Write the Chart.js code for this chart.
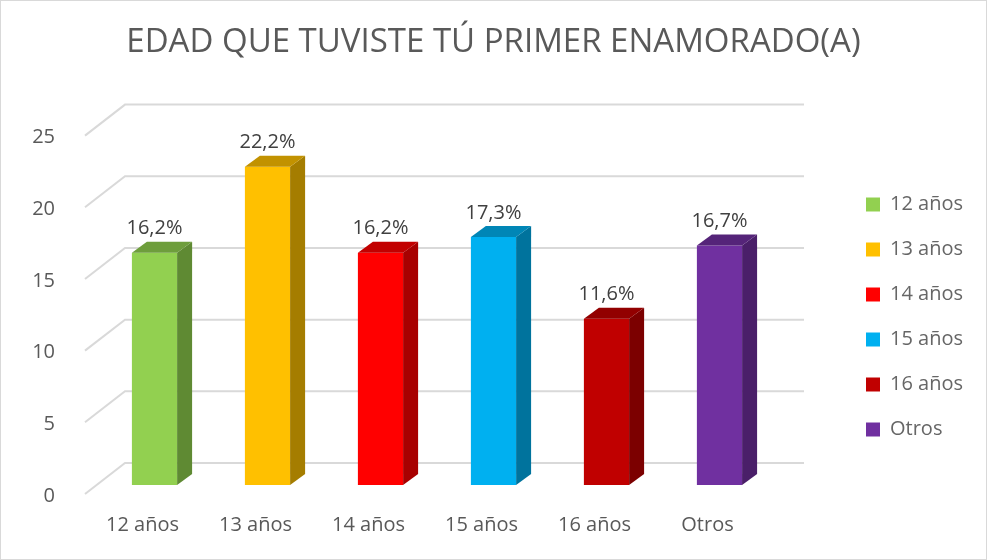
<!DOCTYPE html>
<html lang="es">
<head>
<meta charset="utf-8">
<title>Edad primer enamorado</title>
<script src="https://cdn.jsdelivr.net/npm/chart.js@4.4.0/dist/chart.umd.min.js"></script>
<style>
    html, body { margin: 0; padding: 0; background: #fff; }
    #wrap { width: 987px; height: 560px; position: relative; }
</style>
</head>
<body>
<div id="wrap"><canvas id="chart" width="987" height="560"></canvas></div>
<script>
const categories = ['12 años', '13 años', '14 años', '15 años', '16 años', 'Otros'];
const percentages = [16.2, 22.2, 16.2, 17.3, 11.6, 16.7];
const yTicks = [0, 5, 10, 15, 20, 25];
const chartTitle = 'EDAD QUE TUVISTE TÚ PRIMER ENAMORADO(A)';

const frontColors = ['#92D050', '#FFC000', '#FF0000', '#00B0F0', '#C00000', '#7030A0'];
const topColors = ['#6E9E3C', '#C29200', '#C20000', '#0086B6', '#920000', '#552479'];
const sideColors = ['#5F8A33', '#A57D00', '#A80000', '#00739D', '#7C0000', '#4A1F69'];

const textGrey = '#595959';
const gridGrey = '#d9d9d9';
const depthX = 15, depthY = 11;

Chart.defaults.font.family = "'Open Sans', 'Noto Sans', sans-serif";

const formatPct = v => v.toFixed(1).replace('.', ',') + '%';

// background + thin outer border
const frame = {
    id: 'frame',
    beforeDraw(chart) {
        const { ctx, width, height } = chart;
        ctx.save();
        ctx.fillStyle = '#fff';
        ctx.fillRect(0, 0, width, height);
        ctx.strokeStyle = gridGrey;
        ctx.lineWidth = 1;
        ctx.strokeRect(0.5, 0.5, width - 1, height - 1);
        ctx.restore();
    }
};

// slanted back-wall gridlines, like the 3D chart in Excel
const wallGrid = {
    id: 'wallGrid',
    beforeDatasetsDraw(chart) {
        const { ctx, chartArea, scales: { y } } = chart;
        ctx.save();
        ctx.strokeStyle = gridGrey;
        ctx.lineWidth = 2;
        yTicks.forEach(v => {
            const yp = y.getPixelForValue(v);
            ctx.beginPath();
            ctx.moveTo(chartArea.left - 13, yp + 9);
            ctx.lineTo(chartArea.left + 27, yp - 22);
            ctx.lineTo(chartArea.right + 28, yp - 22);
            ctx.stroke();
        });
        ctx.restore();
    }
};

// side and top faces of each bar + value labels
const bars3d = {
    id: 'bars3d',
    afterDatasetsDraw(chart) {
        const { ctx } = chart;
        const meta = chart.getDatasetMeta(0);
        ctx.save();
        meta.data.forEach((bar, i) => {
            const { x, y, base, width } = bar.getProps(['x', 'y', 'base', 'width'], true);
            const left = x - width / 2, right = x + width / 2;

            ctx.fillStyle = sideColors[i];
            ctx.beginPath();
            ctx.moveTo(right, y);
            ctx.lineTo(right + depthX, y - depthY);
            ctx.lineTo(right + depthX, base - depthY);
            ctx.lineTo(right, base);
            ctx.closePath();
            ctx.fill();

            ctx.fillStyle = topColors[i];
            ctx.beginPath();
            ctx.moveTo(left, y);
            ctx.lineTo(left + depthX, y - depthY);
            ctx.lineTo(right + depthX, y - depthY);
            ctx.lineTo(right, y);
            ctx.closePath();
            ctx.fill();

            ctx.fillStyle = '#404040';
            ctx.font = "20px 'Open Sans', 'Noto Sans', sans-serif";
            ctx.textAlign = 'center';
            ctx.textBaseline = 'middle';
            ctx.fillText(formatPct(percentages[i]), x, y - 24);
        });
        ctx.restore();
    }
};

new Chart(document.getElementById('chart'), {
    type: 'bar',
    data: {
        labels: categories,
        datasets: [{
            data: percentages,
            backgroundColor: frontColors,
            borderWidth: 0,
            categoryPercentage: 1,
            barPercentage: 0.4
        }]
    },
    options: {
        responsive: false,
        animation: false,
        layout: { padding: { left: 14, right: 14, top: 0, bottom: 3 } },
        plugins: {
            title: {
                display: true,
                text: chartTitle,
                color: textGrey,
                font: { size: 33, weight: 'normal' },
                padding: { top: 23, bottom: 64 }
            },
            legend: {
                position: 'right',
                title: { display: true, text: '', font: { size: 10 }, padding: { top: 61, bottom: 4 } },
                labels: {
                    color: textGrey,
                    font: { size: 20 },
                    boxWidth: 14,
                    boxHeight: 14,
                    padding: 25,
                    generateLabels: chart => categories.map((c, i) => ({
                        text: c,
                        fillStyle: frontColors[i],
                        strokeStyle: frontColors[i],
                        lineWidth: 0,
                        index: i
                    }))
                }
            },
            tooltip: { enabled: false }
        },
        scales: {
            x: {
                grid: { display: false },
                border: { display: false },
                ticks: { color: textGrey, font: { size: 20 }, padding: 20, labelOffset: -12 }
            },
            y: {
                min: 0,
                max: 25,
                grid: { display: false },
                border: { display: false },
                afterFit: s => { s.width = 84; },
                afterBuildTicks: s => { s.ticks = yTicks.map(v => ({ value: v })); },
                ticks: { color: textGrey, font: { size: 20 }, padding: 35, labelOffset: 11 }
            },
            gap: {
                position: 'right',
                grid: { display: false },
                border: { display: false },
                ticks: { display: false },
                afterFit: s => { s.width = 65; }
            }
        }
    },
    plugins: [frame, wallGrid, bars3d]
});
</script>
</body>
</html>
